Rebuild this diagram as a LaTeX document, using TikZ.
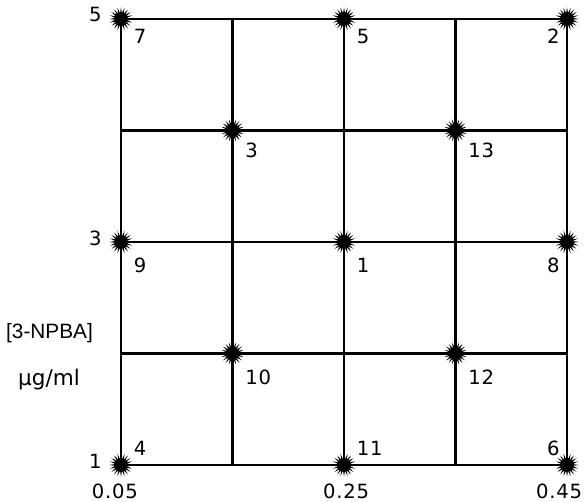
\documentclass[tikz,border=0pt]{standalone}
\usepackage{fontspec}
\setmainfont{DejaVu Sans}
\newfontfamily\thinfont{Liberation Sans}
\usetikzlibrary{shapes.geometric}
\tikzset{
  burst/.style={star, star points=20, star point ratio=2, fill=black, draw=none, inner sep=0pt, minimum size=0.42cm},
  lbl/.style={font=\fontsize{10}{12}\selectfont\addfontfeature{LetterSpace=4}, inner sep=1pt},
}
\begin{document}
\begin{tikzpicture}[x=2cm,y=2cm]
    \useasboundingbox (-1.085,-0.323) rectangle (4.161,4.170);

    %%% grid %%%
    \foreach \i in {0,...,4} {
      \draw[line width=1.1pt] (\i,0) -- (\i,4);
      \draw[line width=1.1pt] (0,\i) -- (4,\i);
    }

    %%% design points %%%
    \node[burst] (p7)  at (0,4) {};   \node[lbl, anchor=north west] at ([shift={(0.094,-0.072)}]p7.center) {7};
    \node[burst] (p5)  at (2,4) {};   \node[lbl, anchor=north west] at ([shift={(0.094,-0.072)}]p5.center) {5};
    \node[burst] (p2)  at (4,4) {};   \node[lbl, anchor=north east] at ([shift={(-0.045,-0.072)}]p2.center) {2};
    \node[burst] (p3)  at (1,3) {};   \node[lbl, anchor=north west] at ([shift={(0.094,-0.09)}]p3.center) {3};
    \node[burst] (p13) at (3,3) {};   \node[lbl, anchor=north west] at ([shift={(0.094,-0.09)}]p13.center) {13};
    \node[burst] (p9)  at (0,2) {};   \node[lbl, anchor=north west] at ([shift={(0.094,-0.125)}]p9.center) {9};
    \node[burst] (p1)  at (2,2) {};   \node[lbl, anchor=north west] at ([shift={(0.094,-0.125)}]p1.center) {1};
    \node[burst] (p8)  at (4,2) {};   \node[lbl, anchor=north east] at ([shift={(-0.045,-0.125)}]p8.center) {8};
    \node[burst] (p10) at (1,1) {};   \node[lbl, anchor=north west] at ([shift={(0.094,-0.125)}]p10.center) {10};
    \node[burst] (p12) at (3,1) {};   \node[lbl, anchor=north west] at ([shift={(0.094,-0.125)}]p12.center) {12};
    \node[burst] (p4)  at (0,0) {};   \node[lbl, anchor=south west] at ([shift={(0.094,0.063)}]p4.center) {4};
    \node[burst] (p11) at (2,0) {};   \node[lbl, anchor=south west] at ([shift={(0.094,0.063)}]p11.center) {11};
    \node[burst] (p6)  at (4,0) {};   \node[lbl, anchor=south east] at ([shift={(-0.045,0.063)}]p6.center) {6};

    %%% axes %%%
    \node[lbl, anchor=east]  (y5) at ([shift={(-0.152,0.036)}]p7.center) {5};
    \node[lbl, anchor=east]  (y3) at ([shift={(-0.152,0.036)}]p9.center) {3};
    \node[lbl, anchor=east]  (y1) at ([shift={(-0.152,0.036)}]p4.center) {1};
    \node[lbl, anchor=north] (x1) at ([shift={(-0.054,-0.15)}]p4.center) {0.05};
    \node[lbl, anchor=north] (x2) at ([shift={(0.018,-0.15)}]p11.center) {0.25};
    \node[lbl, anchor=north] (x3) at ([shift={(-0.072,-0.15)}]p6.center) {0.45};
    \node[font=\thinfont\fontsize{10.6}{12}\selectfont] (conc) at (-0.641,1.185) {[3-NPBA]};
    \node[lbl, font=\fontsize{11}{13}\selectfont] (unit) at (-0.646,0.762) {μg/ml};

\end{tikzpicture}
\end{document}
